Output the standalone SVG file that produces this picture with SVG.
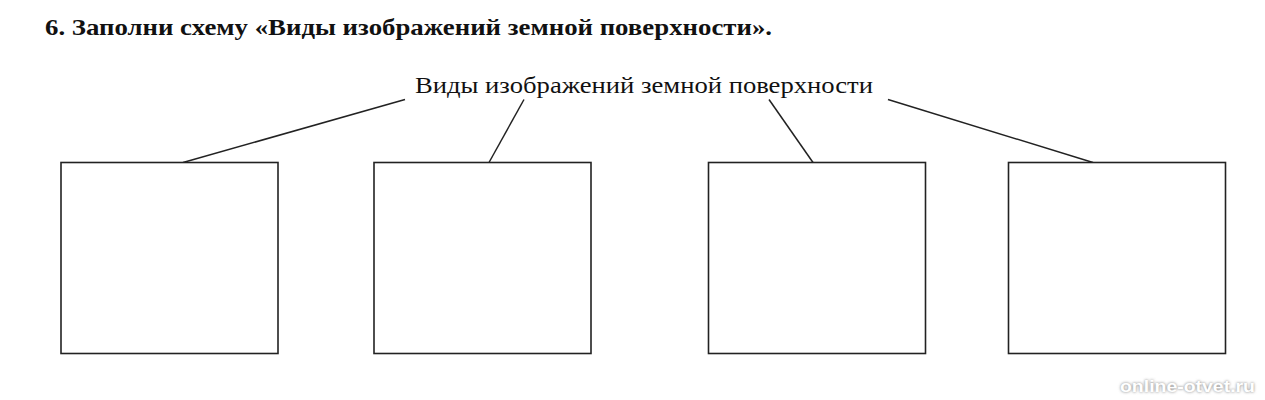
<svg xmlns="http://www.w3.org/2000/svg" width="1265" height="400" viewBox="0 0 1265 400">
  <style>
    .title { font-family: "Liberation Serif", "Times New Roman", serif; font-weight: bold; font-size: 23.5px; fill: #111; }
    .root { font-family: "Liberation Serif", "Times New Roman", serif; font-size: 24px; fill: #111; }
    .box { fill: #fff; stroke: #222; stroke-width: 1.6; }
    .conn { stroke: #222; stroke-width: 1.5; fill: none; }
    .wm { font-family: "Liberation Sans", Arial, sans-serif; font-weight: bold; font-size: 17px; }
  </style>
  <defs>
    <filter id="blur" x="-10%" y="-50%" width="120%" height="200%">
      <feGaussianBlur stdDeviation="1.8"/>
    </filter>
  </defs>
  <rect width="1265" height="400" fill="#fff"/>
  <text class="title" x="45" y="35" textLength="727" lengthAdjust="spacingAndGlyphs">6. Заполни схему «Виды изображений земной поверхности».</text>

  <g id="root">
    <text class="root" x="415" y="93" textLength="458" lengthAdjust="spacingAndGlyphs">Виды изображений земной поверхности</text>
  </g>

  <g id="connectors">
    <line class="conn" x1="405" y1="99.5" x2="183" y2="162.5"/>
    <line class="conn" x1="524" y1="99.5" x2="489" y2="162.5"/>
    <line class="conn" x1="769" y1="99.5" x2="813" y2="162.5"/>
    <line class="conn" x1="888" y1="99.5" x2="1093" y2="162.5"/>
  </g>

  <g id="box1"><rect class="box" x="61" y="162.5" width="217" height="191"/></g>
  <g id="box2"><rect class="box" x="374" y="162.5" width="217" height="191"/></g>
  <g id="box3"><rect class="box" x="708.5" y="162.5" width="217" height="191"/></g>
  <g id="box4"><rect class="box" x="1008.5" y="162.5" width="217" height="191"/></g>

  <g id="watermark">
    <text class="wm" x="1120" y="392" fill="#777" filter="url(#blur)" textLength="135" lengthAdjust="spacingAndGlyphs">online-otvet.ru</text>
    <text class="wm" x="1120" y="392" fill="#fff" textLength="135" lengthAdjust="spacingAndGlyphs">online-otvet.ru</text>
  </g>
</svg>
